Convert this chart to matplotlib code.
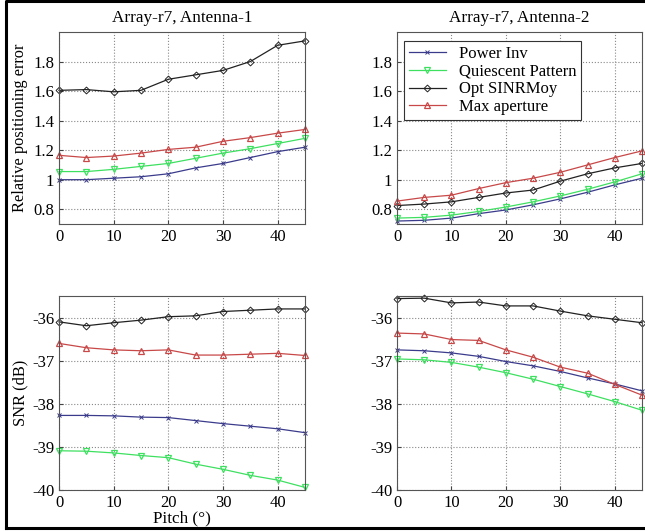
import matplotlib
matplotlib.use("Agg")
import matplotlib.pyplot as plt
from matplotlib.ticker import FuncFormatter
from matplotlib.lines import Line2D

plt.rcParams['font.family'] = ['Liberation Serif', 'DejaVu Serif']

pitch = [0, 5, 10, 15, 20, 25, 30, 35, 40, 45]

# relative positioning error, antenna 1
err1_power = [1.00, 1.00, 1.01, 1.02, 1.04, 1.08, 1.11, 1.15, 1.19, 1.22]
err1_quies = [1.055, 1.055, 1.07, 1.09, 1.11, 1.145, 1.18, 1.21, 1.245, 1.28]
err1_opt = [1.605, 1.61, 1.595, 1.605, 1.68, 1.71, 1.74, 1.80, 1.91, 1.94]
err1_maxap = [1.165, 1.15, 1.16, 1.18, 1.205, 1.22, 1.26, 1.285, 1.315, 1.34]

# relative positioning error, antenna 2
err2_power = [0.72, 0.725, 0.74, 0.77, 0.795, 0.83, 0.87, 0.915, 0.965, 1.01]
err2_quies = [0.74, 0.745, 0.76, 0.785, 0.815, 0.85, 0.89, 0.935, 0.985, 1.04]
err2_opt = [0.825, 0.835, 0.85, 0.88, 0.91, 0.93, 0.99, 1.04, 1.08, 1.11]
err2_maxap = [0.855, 0.88, 0.895, 0.94, 0.98, 1.01, 1.05, 1.10, 1.15, 1.195]

# SNR (dB), antenna 1
snr1_power = [-38.27, -38.27, -38.28, -38.31, -38.32, -38.39, -38.46, -38.52, -38.58, -38.67]
snr1_quies = [-39.09, -39.10, -39.14, -39.20, -39.25, -39.40, -39.52, -39.66, -39.77, -39.94]
snr1_opt = [-36.10, -36.19, -36.12, -36.06, -35.98, -35.96, -35.86, -35.83, -35.80, -35.80]
snr1_maxap = [-36.60, -36.70, -36.75, -36.77, -36.75, -36.87, -36.87, -36.85, -36.83, -36.88]

# SNR (dB), antenna 2
snr2_power = [-36.75, -36.77, -36.82, -36.90, -37.02, -37.12, -37.25, -37.40, -37.54, -37.70]
snr2_quies = [-36.96, -36.98, -37.04, -37.15, -37.28, -37.43, -37.60, -37.77, -37.95, -38.15]
snr2_opt = [-35.56, -35.55, -35.66, -35.64, -35.73, -35.73, -35.85, -35.96, -36.04, -36.12]
snr2_maxap = [-36.36, -36.38, -36.51, -36.53, -36.75, -36.92, -37.15, -37.29, -37.55, -37.80]

labels = ['Power Inv', 'Quiescent Pattern', 'Opt SINRMoy', 'Max aperture']
styles = [
    dict(color='#3b3b8c', marker='x', ms=3.5, mew=0.7),
    dict(color='#3ee060', marker='v', ms=5, mfc='none', mew=0.9),
    dict(color='#222222', marker='D', ms=3.5, mfc='none', mew=0.7),
    dict(color='#c84848', marker='^', ms=5, mfc='none', mew=0.9),
]

W, H = 645, 531
fig = plt.figure(figsize=(W / 100, H / 100), dpi=100)


def px_axes(x0, y0, x1, y1):
    return fig.add_axes([x0 / W, 1 - y1 / H, (x1 - x0) / W, (y1 - y0) / H])


fmt = FuncFormatter(lambda v, p: '%g' % round(v, 6))


def style_ax(ax, ylim, yticks):
    ax.set_xlim(0, 45)
    ax.set_ylim(*ylim)
    ax.set_xticks([0, 10, 20, 30, 40])
    ax.set_yticks(yticks)
    ax.yaxis.set_major_formatter(fmt)
    ax.grid(True, linestyle=':', color='#888888', linewidth=0.8)
    ax.tick_params(direction='in', labelsize=12, length=3, color='#444444')
    for s in ax.spines.values():
        s.set_color('#555555')
        s.set_linewidth(0.8)


panels = [
    (px_axes(59, 32, 305, 224), [err1_power, err1_quies, err1_opt, err1_maxap]),
    (px_axes(397, 32, 642, 224), [err2_power, err2_quies, err2_opt, err2_maxap]),
    (px_axes(59, 296, 305, 490), [snr1_power, snr1_quies, snr1_opt, snr1_maxap]),
    (px_axes(397, 296, 642, 490), [snr2_power, snr2_quies, snr2_opt, snr2_maxap]),
]

for i, (ax, series) in enumerate(panels):
    for ys, st, lab in zip(series, styles, labels):
        ax.plot(pitch, ys, lw=0.9, label=lab, clip_on=False, **st)
    if i < 2:
        style_ax(ax, (0.7, 2.0), [0.8, 1.0, 1.2, 1.4, 1.6, 1.8])
    else:
        style_ax(ax, (-40, -35.5), [-40, -39, -38, -37, -36])

panels[0][0].set_title('Array-r7, Antenna-1', fontsize=12.3, pad=7)
panels[1][0].set_title('Array-r7, Antenna-2', fontsize=12.3, pad=7)
panels[0][0].set_ylabel('Relative positioning error', fontsize=11.8)
panels[2][0].set_ylabel('SNR (dB)', fontsize=11.8)
panels[0][0].yaxis.set_label_coords(-0.125, 0.5)
panels[2][0].yaxis.set_label_coords(-0.125, 0.5)
panels[2][0].set_xlabel('Pitch (°)', fontsize=12.3, labelpad=0)

leg = panels[1][0].legend(loc='upper left', bbox_to_anchor=(0.028, 0.953), borderaxespad=0,
                          fontsize=12, fancybox=False, framealpha=1, edgecolor='#333333',
                          borderpad=0.3, labelspacing=0.1, handlelength=2.2)
leg.get_frame().set_linewidth(0.8)

# outer frame of the figure
fx = [6 / W, 6 / W, 1.05, 1.05, 6 / W]
fy = [1 - 528 / H, 1 - 1 / H, 1 - 1 / H, 1 - 528 / H, 1 - 528 / H]
fig.add_artist(Line2D(fx, fy, color='black', lw=2.2, transform=fig.transFigure))

fig.savefig('out.png', dpi=100)
